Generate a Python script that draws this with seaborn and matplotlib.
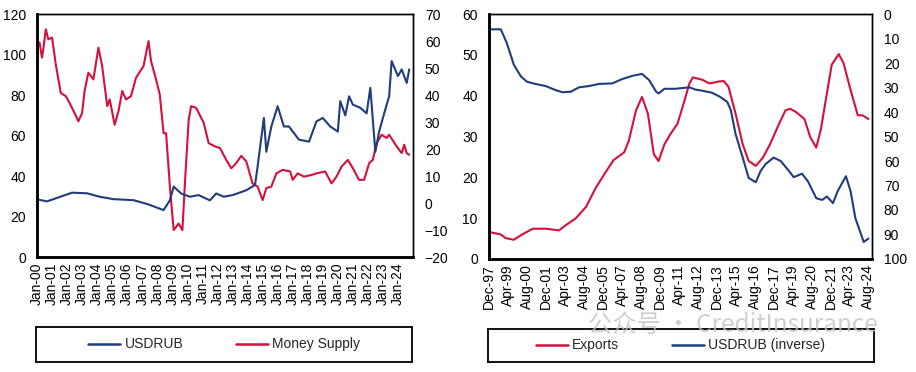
import matplotlib
matplotlib.use("Agg")
import matplotlib.pyplot as plt
import matplotlib.dates as mdates
import seaborn as sns
import pandas as pd
from matplotlib.lines import Line2D

# ---- left panel data (monthly points) ----
usdrub_dates = ["2000-01", "2000-09", "2002-05", "2003-05", "2004-03", "2005-02", "2006-06",
                "2007-05", "2008-06", "2008-11", "2009-02", "2009-08", "2010-03", "2010-10",
                "2011-07", "2011-12", "2012-06", "2013-01", "2013-12", "2014-07", "2014-09",
                "2015-02", "2015-04", "2015-08", "2016-01", "2016-06", "2016-10", "2017-06",
                "2018-02", "2018-08", "2019-01", "2019-07", "2020-01", "2020-03", "2020-07",
                "2020-10", "2021-01", "2021-07", "2021-12", "2022-03", "2022-07", "2022-10",
                "2023-02", "2023-06", "2023-08", "2024-01", "2024-04", "2024-08", "2024-10"]
usdrub = [28.5, 27.5, 31.8, 31.5, 29.8, 28.6, 28.1,
          26.2, 23.2, 28.0, 34.8, 31.4, 29.8, 30.6,
          28.0, 31.4, 29.8, 30.6, 33.0, 35.6, 44.7,
          68.7, 52.0, 64.5, 74.5, 64.5, 64.5, 58.0,
          57.0, 67.0, 68.7, 64.5, 62.0, 77.0, 70.0,
          79.4, 75.3, 73.7, 71.0, 83.6, 52.0, 62.0,
          71.0, 79.4, 96.8, 89.4, 92.7, 86.0, 92.7]

money_dates = ["2000-01", "2000-03", "2000-05", "2000-06", "2000-08", "2000-10", "2001-01",
               "2001-04", "2001-08", "2001-12", "2002-03", "2002-07", "2002-10", "2003-01",
               "2003-03", "2003-06", "2003-10", "2004-02", "2004-05", "2004-09", "2004-11",
               "2005-03", "2005-06", "2005-09", "2005-12", "2006-04", "2006-08", "2007-02",
               "2007-06", "2007-08", "2007-12", "2008-03", "2008-06", "2008-08", "2008-11",
               "2009-02", "2009-06", "2009-09", "2009-11", "2010-02", "2010-04", "2010-08",
               "2011-02", "2011-06", "2011-11", "2012-03", "2012-08", "2012-12", "2013-04",
               "2013-08", "2013-12", "2014-05", "2014-09", "2015-01", "2015-04", "2015-08",
               "2015-12", "2016-05", "2016-11", "2017-01", "2017-05", "2017-10", "2018-04",
               "2018-08", "2019-03", "2019-08", "2019-12", "2020-04", "2020-09", "2021-01",
               "2021-06", "2021-10", "2022-02", "2022-05", "2022-08", "2022-12", "2023-04",
               "2023-06", "2023-12", "2024-04", "2024-06", "2024-08", "2024-10"]
money_supply = [57.6, 59.5, 53.9, 57.0, 64.4, 60.7, 61.3,
                51.4, 40.8, 39.6, 37.1, 33.4, 30.3, 33.4,
                41.5, 48.3, 45.8, 57.6, 50.8, 35.9, 38.4,
                29.0, 34.0, 41.5, 38.4, 39.6, 46.4, 50.8,
                60.0, 52.6, 45.8, 40.2, 25.9, 25.9, 6.1,
                -10.0, -7.6, -10.0, 7.3, 30.9, 35.9, 35.3,
                29.7, 22.2, 21.0, 20.4, 16.0, 12.9, 14.8,
                17.5, 15.4, 7.3, 6.1, 1.1, 5.5, 6.1,
                11.0, 12.3, 11.7, 8.6, 11.0, 9.8, 10.4,
                11.0, 11.7, 7.3, 9.8, 13.5, 16.0, 12.9,
                8.6, 8.6, 14.8, 16.0, 22.2, 25.3, 24.1,
                25.3, 21.0, 18.5, 21.6, 18.5, 17.9]

# ---- right panel data ----
inv_dates = ["1997-12", "1998-10", "1999-03", "1999-09", "2000-03", "2000-08", "2001-03",
             "2001-12", "2002-08", "2003-02", "2003-09", "2004-04", "2004-12", "2005-09",
             "2006-08", "2007-04", "2008-01", "2008-09", "2009-03", "2009-09", "2009-11",
             "2010-04", "2011-01", "2012-01", "2012-06", "2012-12", "2013-08", "2014-03",
             "2014-09", "2014-12", "2015-04", "2015-10", "2016-03", "2016-09", "2017-01",
             "2017-05", "2017-12", "2018-06", "2019-01", "2019-05", "2019-12", "2020-05",
             "2020-12", "2021-05", "2021-09", "2022-02", "2022-06", "2023-01", "2023-05",
             "2023-09", "2024-02", "2024-04", "2024-08"]
usdrub_inv = [6.2, 6.2, 11.7, 20.7, 25.5, 27.6, 28.5,
              29.4, 31.0, 31.9, 31.7, 29.9, 29.4, 28.5,
              28.3, 26.6, 25.2, 24.4, 26.9, 31.7, 32.4,
              30.5, 30.5, 29.9, 30.8, 31.3, 32.1, 33.8,
              35.9, 39.3, 49.0, 58.6, 66.9, 68.7, 64.1,
              61.4, 58.6, 60.0, 64.1, 66.6, 65.2, 68.3,
              75.2, 75.9, 74.5, 77.2, 72.4, 66.2, 72.4,
              83.4, 90.3, 93.1, 91.7]

exp_dates = ["1997-12", "1998-10", "1999-02", "1999-09", "2000-04", "2001-01", "2001-12",
             "2002-11", "2003-05", "2004-01", "2004-10", "2005-06", "2006-02", "2006-09",
             "2007-06", "2007-10", "2008-04", "2008-09", "2009-02", "2009-07", "2009-11",
             "2010-04", "2010-09", "2011-03", "2011-09", "2012-01", "2012-04", "2012-12",
             "2013-06", "2014-02", "2014-06", "2014-10", "2015-04", "2015-10", "2016-03",
             "2016-09", "2017-03", "2017-09", "2018-04", "2018-10", "2019-02", "2019-07",
             "2020-02", "2020-07", "2020-12", "2021-04", "2021-08", "2022-01", "2022-07",
             "2022-11", "2023-05", "2023-11", "2024-03", "2024-08"]
exports = [6.6, 6.0, 5.1, 4.7, 6.0, 7.4, 7.4,
           7.0, 8.3, 9.9, 12.8, 17.4, 21.1, 24.2,
           26.1, 29.0, 36.4, 39.7, 35.6, 25.7, 24.0,
           28.1, 30.6, 33.1, 38.9, 43.0, 44.5, 43.9,
           43.0, 43.5, 43.6, 42.2, 35.6, 28.1, 24.0,
           22.8, 24.8, 28.1, 32.7, 36.4, 36.8, 36.0,
           34.3, 29.8, 27.3, 31.9, 38.9, 47.6, 50.2,
           48.0, 41.4, 35.2, 35.2, 34.3]

BLUE = "#1f3d7a"
RED = "#d4103c"
LW = 1.5

sns.set_style("white")
plt.rcParams['font.family'] = ['Liberation Sans', 'DejaVu Sans']
plt.rcParams['font.size'] = 10

fig = plt.figure(figsize=(9.16, 3.72), dpi=100)

def style_frame(ax):
    for s in ax.spines.values():
        s.set_color("black")
        s.set_linewidth(1.0)
    ax.spines["left"].set_linewidth(1.8)
    ax.spines["bottom"].set_linewidth(1.8)
    ax.tick_params(length=0, colors="black", labelsize=10)

# ---------------- left panel ----------------
ax1 = fig.add_axes([0.0404, 0.309, 0.4105, 0.653])
df_u = pd.DataFrame({"date": pd.to_datetime(usdrub_dates), "v": usdrub})
df_m = pd.DataFrame({"date": pd.to_datetime(money_dates), "v": money_supply})
sns.lineplot(data=df_u, x="date", y="v", ax=ax1, color=BLUE, lw=LW)
ax1.set_ylim(0, 120)
ax1.set_yticks(range(0, 121, 20))
ax1.set_xlim(pd.Timestamp("2000-01-01"), pd.Timestamp("2025-01-01"))
ax1.set_xticks([pd.Timestamp(f"{y}-01-01") for y in range(2000, 2025)])
ax1.xaxis.set_major_formatter(mdates.DateFormatter("%b-%y"))
ax1.set_xlabel("")
ax1.set_ylabel("")
ax1b = ax1.twinx()
sns.lineplot(data=df_m, x="date", y="v", ax=ax1b, color=RED, lw=LW)
ax1b.set_ylim(-20, 70)
ax1b.set_yticks(range(-20, 71, 10))
ax1b.set_ylabel("")
ax1.set_zorder(ax1b.get_zorder() + 1)
ax1.patch.set_visible(False)
for lab in ax1.get_xticklabels():
    lab.set_rotation(90)
style_frame(ax1)
style_frame(ax1b)
ax1.tick_params(axis="x", pad=4)
ax1.tick_params(axis="y", pad=8)
ax1b.tick_params(axis="y", pad=8.5)

# ---------------- right panel ----------------
ax2 = fig.add_axes([0.5338, 0.304, 0.4182, 0.658])
df_e = pd.DataFrame({"date": pd.to_datetime(exp_dates), "v": exports})
df_i = pd.DataFrame({"date": pd.to_datetime(inv_dates), "v": usdrub_inv})
sns.lineplot(data=df_e, x="date", y="v", ax=ax2, color=RED, lw=LW)
ax2.set_ylim(0, 60)
ax2.set_yticks(range(0, 61, 10))
ax2.set_xlim(pd.Timestamp("1997-12-01"), pd.Timestamp("2024-11-01"))
ax2.set_xticks(pd.date_range("1997-12-01", "2024-08-01", freq="16MS"))
ax2.xaxis.set_major_formatter(mdates.DateFormatter("%b-%y"))
ax2.set_xlabel("")
ax2.set_ylabel("")
ax2b = ax2.twinx()
sns.lineplot(data=df_i, x="date", y="v", ax=ax2b, color=BLUE, lw=LW)
ax2b.set_ylim(100, 0)
ax2b.set_yticks(range(0, 101, 10))
ax2b.set_ylabel("")
for lab in ax2.get_xticklabels():
    lab.set_rotation(90)
style_frame(ax2)
style_frame(ax2b)
ax2.tick_params(axis="x", pad=4)
ax2.tick_params(axis="y", pad=8)
ax2b.tick_params(axis="y", pad=8.5)

# ---------------- legend boxes ----------------
def legend_box(rect, labels, colors):
    lax = fig.add_axes(rect)
    lax.set_xticks([])
    lax.set_yticks([])
    for s in lax.spines.values():
        s.set_color("black")
        s.set_linewidth(1.3)
    handles = [Line2D([0], [0], color=c, lw=1.8) for c in colors]
    lax.legend(handles, labels, loc="center", ncol=2, frameon=False,
               handlelength=2.3, handletextpad=0.3, columnspacing=3.8,
               fontsize=10)
    return lax

legend_box([0.0393, 0.027, 0.411, 0.094], ["USDRUB", "Money Supply"], [BLUE, RED])
legend_box([0.5327, 0.027, 0.421, 0.089], ["Exports", "USDRUB (inverse)"], [RED, BLUE])

# watermark
fig.text(0.642, 0.128, "公众号 · CreditInsurance", fontsize=17.5, color="#c4c4c4",
         alpha=0.8, ha="left", va="center",
         family=["Noto Sans CJK SC", "DejaVu Sans"])

fig.savefig("out.png", dpi=100)
